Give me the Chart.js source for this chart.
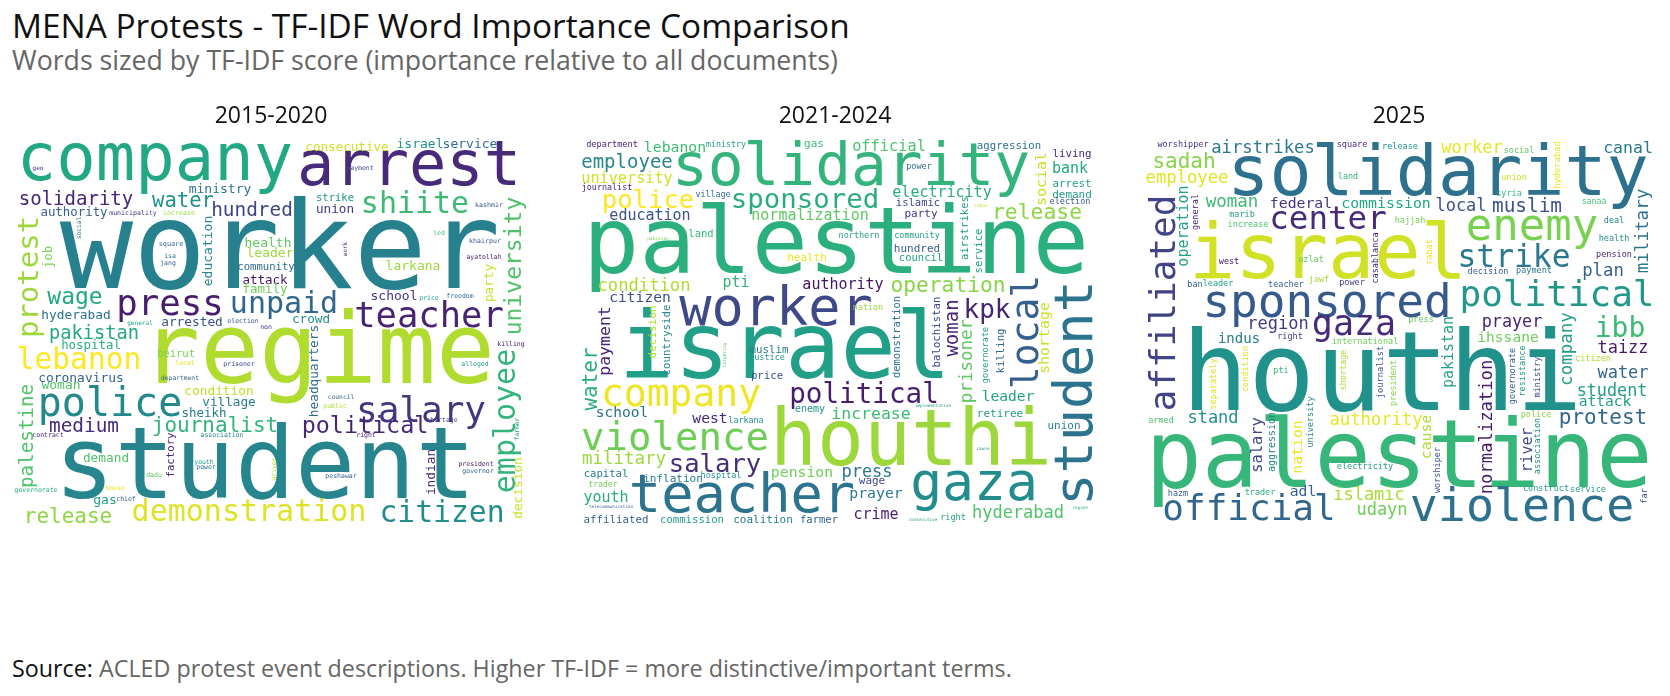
<!DOCTYPE html>
<html><head><meta charset="utf-8">
<style>
html,body{margin:0;padding:0;background:#fff;width:1670px;height:696px;overflow:hidden}
body{position:relative;font-family:"Open Sans",sans-serif}
.t{position:absolute;white-space:nowrap;line-height:1}
canvas{position:absolute;top:92px}
</style>
<script src="https://cdn.jsdelivr.net/npm/chart.js@4"></script>
</head><body>
<div class="t" id="h1" style="left:12px;top:9px;font-size:33.4px;color:#111">MENA Protests - TF-IDF Word Importance Comparison</div>
<div class="t" id="h2" style="left:12px;top:47px;font-size:26.7px;color:#666">Words sized by TF-IDF score (importance relative to all documents)</div>
<div class="t" id="src" style="left:12px;top:657px;font-size:23.3px;color:#666"><span style="color:#111">Source:</span> ACLED protest event descriptions. Higher TF-IDF = more distinctive/important terms.</div>
<canvas id="c0" width="522" height="440" style="left:10px"></canvas>
<canvas id="c1" width="522" height="440" style="left:574px"></canvas>
<canvas id="c2" width="522" height="440" style="left:1138px"></canvas>
<script>
const panelTitles=["2015-2020","2021-2024","2025"];

const wordsA=["worker","student","regime","company","arrest","shiite","solidarity","water","hundred","ministry","authority","municipality","increase","geo","protest","job","social","education","health","leader","community","attack","family","square","isa","jang","wage","press","unpaid","hyderabad","arrested","general","election","non","consecutive","israel","service","payment","strike","union","university","kashmir","led","khairpur","ayatollah","work","larkana","party","school","price","freedom","teacher","crowd","headquarters","pakistan","hospital","lebanon","beirut","local","prisoner","department","coronavirus","woman","police","condition","village","sheikh","journalist","medium","palestine","contract","association","factory","demand","youth","power","dadu","driver","governorate","house","gas","chief","release","demonstration","employee","killing","alleged","salary","council","public","political","shortage","right","farmer","indian","president","governor","decision","peshawar","citizen"];
const xA=[280,265,318,155,409,415,76,183,252,220,74,133,179,38,38,52,81,212,268,270,266,265,265,171,170,168,75,170,284,76,192,140,243,266,347,420,470,360,335,335,521,489,439,485,484,347,413,493,394,429,460,429,311,318,94,91,79,176,185,239,180,81,61,110,219,229,204,215,84,33,48,222,174,106,204,206,154,276,36,115,105,126,68,249,515,511,475,421,341,335,365,442,366,519,435,476,478,522,341,442];
const yA=[288,498,383,180,185,213,205,207,216,193,216,215,215,170,277,257,228,251,247,257,270,284,293,246,258,265,304,315,313,319,326,325,323,329,151,148,148,170,201,213,266,207,235,243,259,249,270,283,300,300,298,327,323,371,339,349,369,357,365,366,380,382,389,416,395,406,417,432,432,436,437,437,455,462,464,469,477,469,492,490,504,501,523,521,421,346,366,422,399,408,433,422,437,429,472,466,473,488,478,522];
const scoreA=[122,100,98,65.6,62,30,19,20.6,19.4,13,12.4,6.6,6.6,6,29,12.4,6.3,13,13,13,10.6,12.5,12.5,6.8,6.5,6.5,23,35.7,30,12.8,12.8,6.1,6.5,6.5,12.6,13,13,6.5,10.5,12.7,23,6.6,6.5,6.6,6.5,6,13,12.7,13,6.5,6.5,35.5,12.7,12.8,18.7,12.4,29.6,10.5,6.5,6.5,6.3,12.9,13,40,12.8,12.7,12.5,21,19.4,19.2,6.5,6.5,10.7,12.8,6.5,6.5,6.5,6.3,6.5,6.5,13,6.5,21,30,30,6.5,6.5,36,6.3,6.5,23.4,6.5,6.5,6.3,12.8,6.5,6.5,12.8,6.5,29.7];
const toneA=[.43,.45,.88,.6,.12,.68,.1,.5,.2,.38,.3,.15,.85,.15,.85,.8,.4,.45,.75,.85,.35,.05,.78,.35,.38,.3,.6,.08,.33,.38,.25,.55,.25,.2,.93,.5,.35,.22,.5,.15,.72,.25,.72,.27,.1,.05,.85,.92,.15,.55,.35,.1,.5,.35,.6,.62,1,.8,.96,.2,.3,.32,.72,.47,.9,.42,.42,.65,.12,.72,.12,.45,.1,.72,.55,.38,.75,.9,.62,.97,.55,.3,.83,.95,.65,.05,.55,.15,.28,.88,.1,.18,.08,.52,.1,.05,.3,.92,.33,.48];
const verticalA=["protest","job","social","education","university","work","party","headquarters","palestine","factory","driver","employee","farmer","indian","decision"];

const wordsB=["palestine","houthi","solidarity","israel","worker","teacher","student","gaza","company","violence","local","sponsored","police","political","salary","operation","kpk","release","condition","department","ministry","lebanon","gas","employee","university","journalist","village","education","normalization","land","pakistan","pti","health","authority","citizen","payment","decision","countryside","official","aggression","power","living","social","bank","arrest","demand","election","electricity","islamic","airstrikes","rabat","party","northern","community","hundred","council","service","nation","demonstration","balochistan","woman","prisoner","governorate","killing","shortage","muslim","justice","targeting","price","water","enemy","school","west","larkana","increase","military","capital","inflation","hospital","pension","trader","youth","telecommunication","affiliated","commission","coalition","farmer","leader","implementation","retiree","union","cause","press","wage","prayer","crime","hyderabad","regime","consecutive","right"];
const xB=[836,911,851,785,776,742,1092,974,681,675,1038,805,648,864,715,948,987,1037,644,612,726,675,814,627,627,607,713,650,810,701,658,736,807,843,640,610,656,670,889,1009,919,1072,1046,1070,1072,1072,1070,942,918,968,981,921,859,917,917,921,982,868,900,940,958,972,988,1004,1049,769,767,726,767,597,810,622,710,746,871,624,606,673,721,802,603,606,611,616,692,763,819,1008,933,1000,1064,983,867,872,876,876,1018,1080,923,953];
const yB=[273,465,185,378,325,512,393,500,406,450,332,208,208,403,472,292,318,219,291,147,147,152,147,168,183,190,197,220,220,237,240,287,261,289,302,341,332,340,151,149,169,157,179,173,187,198,204,197,206,228,207,217,238,238,252,261,251,310,337,332,328,361,355,351,338,353,360,355,379,379,412,417,423,423,419,464,477,482,478,477,487,502,508,523,523,523,523,401,407,417,429,450,477,484,498,519,518,509,521,520];
const scoreB=[93.4,78,59.5,92,53.6,53.7,53.5,53,38,39,38,27.4,25.6,27.6,25.6,21.2,26,21.4,17.2,8.6,8.3,14.8,11,19,15.2,8.4,8.3,15,15,10.5,4.5,15,11,15,14.6,16.5,11,10.7,15.3,10.7,8.5,10.8,14.8,15,10.8,11,8.5,15,10.5,10.6,4.5,11,8.5,8.4,11,10.5,10.7,8.4,10.5,10.7,19,17.5,8.5,10.7,14.9,10.8,8.5,4.5,10.7,21,10,14.5,14.7,8.4,16.5,17.4,10.6,11,8.5,14.8,8,15,4.3,10.8,10.6,11,10.5,14.6,4.3,11,11,4.3,17,11,14.8,15,17,4.3,4.3,8.5];
const toneB=[.63,.85,.65,.56,.22,.38,.38,.48,.98,.78,.3,.62,1,.08,.13,.82,.1,.83,.88,.1,.55,.68,.68,.45,.93,.12,.35,.25,.75,.65,.8,.65,.97,.05,.25,.1,.88,.45,.72,.38,.35,.12,.92,.6,.55,.55,.28,.62,.22,.55,.9,.15,.55,.55,.3,.58,.55,.85,.38,.22,.1,.75,.55,.33,.92,.42,.52,.72,.25,.62,.52,.38,.12,.5,.68,.85,.42,.42,.5,.78,.78,.62,.3,.3,.55,.42,.32,.58,.5,.55,.42,.45,.4,.22,.4,.08,.72,.65,.55,.55];
const verticalB=["student","local","payment","decision","countryside","social","airstrikes","service","demonstration","balochistan","woman","prisoner","governorate","killing","shortage","targeting","water"];

const wordsC=["palestine","houthi","solidarity","israel","violence","sponsored","official","enemy","affiliated","political","center","gaza","strike","airstrikes","worshipper","square","release","sadah","employee","land","worker","social","hyderabad","canal","union","syria","local","muslim","sanaa","woman","federal","commission","operation","general","marib","increase","hajjah","deal","health","military","casablanca","pension","rabat","west","uzlat","decision","payment","plan","ban","leader","teacher","jawf","power","region","press","prayer","ibb","company","pakistan","ihssane","indus","right","international","taizz","citizen","condition","shortage","journalist","president","separately","pti","governorate","resistance","ministry","water","student","attack","normalization","stand","authority","protest","police","university","armed","salary","aggression","nation","cause","river","association","electricity","worshiper","hazm","trader","adl","islamic","udayn","construct","service","far"];
const xC=[1399,1382,1438,1328,1522,1327,1249,1532,1175,1557,1328,1354,1514,1263,1183,1352,1400,1184,1187,1348,1472,1519,1560,1628,1514,1509,1461,1527,1594,1232,1301,1386,1188,1198,1242,1248,1410,1614,1614,1648,1378,1614,1432,1229,1311,1488,1534,1603,1195,1218,1286,1319,1352,1278,1421,1512,1620,1572,1453,1508,1239,1290,1365,1623,1593,1248,1346,1383,1396,1216,1281,1515,1525,1540,1623,1612,1605,1492,1213,1376,1603,1536,1313,1161,1262,1275,1302,1431,1532,1540,1365,1440,1178,1260,1303,1369,1382,1546,1588,1647];
const yC=[487,410,195,278,521,317,520,240,303,306,229,335,267,153,147,147,149,168,183,179,153,153,165,153,180,196,211,212,204,207,208,208,226,212,217,227,223,223,241,231,258,257,252,264,262,274,273,276,287,286,287,282,285,329,322,327,337,349,352,342,343,339,344,353,361,369,370,372,383,384,373,376,371,377,378,396,406,427,423,425,424,417,422,423,445,442,447,437,450,446,469,470,496,495,496,500,515,491,492,496];
const scoreC=[93.6,111,70,77,46.6,46,36,44,36,36,32.5,35,31.3,17.2,8.5,8.5,8.5,21,17.2,8.5,17,8.5,8.8,16.5,8.5,8.5,17,19.4,8.2,17.5,14.8,14.9,15,8.5,8.5,8.5,8.5,8.5,8.5,17.6,8.5,8.5,8.5,8.5,8.5,8.5,8.5,17.3,8.5,8.5,8.5,8.5,8.5,17,8.5,16.8,28,17.5,15,14.6,14,8.5,8.5,17,8.5,8.5,8.5,8.7,8.5,8.5,8.5,8.5,8.5,8.5,17,16.8,14.6,17.2,17,17.2,21,8.5,8.5,8.5,15.4,10,14.8,14.8,15,8.5,8.5,8.5,8.5,8.5,14.7,17,17,8.5,8.5,8.5];
const toneC=[.66,.5,.37,.93,.37,.28,.33,.8,.2,.53,.12,.12,.4,.4,.15,.12,.5,.82,.96,.65,.97,.75,.97,.4,.93,.65,.25,.25,.7,.68,.15,.6,.58,.1,.55,.72,.8,.45,.5,.38,.1,.08,.97,.05,.75,.3,.4,.3,.33,.55,.3,.85,.18,.17,.75,.1,.68,.55,.55,.78,.42,.2,.78,.08,.88,.95,.88,.27,.82,.95,.65,.28,.55,.25,.33,.55,.55,.07,.5,.97,.33,.82,.45,.72,.2,.45,.97,.88,.22,.5,.55,.25,.3,.62,.3,.87,.78,.55,.55,.27];
const verticalC=["affiliated","hyderabad","operation","general","military","casablanca","rabat","company","pakistan","condition","shortage","journalist","president","separately","governorate","resistance","ministry","normalization","university","salary","aggression","nation","cause","river","association","worshiper","far"];

const viridis=[[68,1,84],[72,36,117],[65,68,135],[53,95,141],[42,120,142],[33,145,140],[34,168,132],[68,191,112],[122,209,81],[189,223,38],[253,231,37]];
function toneColor(t){
  const p=Math.min(t,.9999)*10,i=Math.floor(p),f=p-i,a=viridis[i],b=viridis[i+1];
  return `rgb(${a.map((v,k)=>Math.round(v+(b[k]-v)*f)).join(",")})`;
}

const cloudWords={
  id:"cloudWords",
  afterDatasetsDraw(chart,_,opts){
    const ctx=chart.ctx,pts=chart.getDatasetMeta(0).data;
    ctx.save();
    ctx.filter="blur(0.7px)";
    ctx.textAlign="center";
    ctx.textBaseline="alphabetic";
    opts.words.forEach((w,i)=>{
      ctx.save();
      ctx.translate(pts[i].x,pts[i].y);
      if(opts.vertical.includes(w)) ctx.rotate(-Math.PI/2);
      ctx.font=`${opts.score[i]}px "DejaVu Sans Mono"`;
      ctx.fillStyle=toneColor(opts.tone[i]);
      ctx.fillText(w,0,0);
      ctx.restore();
    });
    ctx.restore();
  }
};

function cloud(id,left,title,words,xs,ys,score,tone,vertical){
  new Chart(document.getElementById(id),{
    type:"scatter",
    data:{datasets:[{data:words.map((w,i)=>({x:xs[i],y:ys[i]})),pointRadius:0,pointHoverRadius:0}]},
    options:{
      responsive:false,animation:false,events:[],
      layout:{padding:0},
      scales:{
        x:{type:"linear",display:false,min:left,max:left+522},
        y:{type:"linear",display:false,reverse:true,min:130,max:532}
      },
      plugins:{
        legend:{display:false},tooltip:{enabled:false},
        title:{display:true,text:title,color:"#111",padding:{top:13,bottom:2},
               font:{family:'"Open Sans"',size:23,weight:"normal",lineHeight:1}},
        cloudWords:{words,score,tone,vertical}
      }
    },
    plugins:[cloudWords]
  });
}
cloud("c0",10,panelTitles[0],wordsA,xA,yA,scoreA,toneA,verticalA);
cloud("c1",574,panelTitles[1],wordsB,xB,yB,scoreB,toneB,verticalB);
cloud("c2",1138,panelTitles[2],wordsC,xC,yC,scoreC,toneC,verticalC);
</script>
</body></html>
